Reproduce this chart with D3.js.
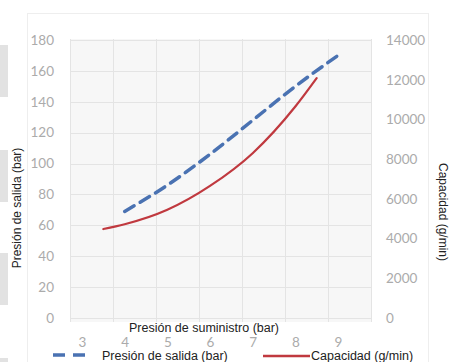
<!DOCTYPE html>
<html>
<head>
<meta charset="utf-8">
<script src="https://cdn.jsdelivr.net/npm/d3@7"></script>
<style>
  body { margin: 0; background: #ffffff; }
  svg { display: block; }
</style>
</head>
<body>
<svg id="chart"></svg>
<script>
//--Data
var supplyTicks = [3, 4, 5, 6, 7, 8, 9];
var outletTicks = [0, 20, 40, 60, 80, 100, 120, 140, 160, 180];
var capacityTicks = [0, 2000, 4000, 6000, 8000, 10000, 12000, 14000];

// Presión de salida (bar), left axis
var outletX = [4, 5, 6, 7, 8, 9];
var outletY = [69, 86, 106, 128, 150, 170];

// Capacidad (g/min), right axis
var capacityX = [3.5, 4, 5, 6, 7, 8, 8.5];
var capacityY = [4480, 4720, 5450, 6650, 8300, 10650, 12080];

//--Canvas
var canvas = {
  width: 449,
  height: 362,
  plotLeft: 70,
  plotRight: 371,
  plotTop: 40,
  plotBottom: 318,
  tickColor: "#ababab",
  gridColor: "#e4e4e4",
  blue: "#4a72b2",
  red: "#c0393f"
};

let root = d3.select("#chart")
  .attr("width", canvas.width)
  .attr("height", canvas.height)
  .style("font-family", "Lato, 'Open Sans', sans-serif");

let scale_x = d3.scaleLinear().domain([3, 9]).range([82, 338]);
let scale_yl = d3.scaleLinear().domain([0, 180]).range([canvas.plotBottom, canvas.plotTop]);
let scale_yr = d3.scaleLinear().domain([0, 14000]).range([canvas.plotBottom, canvas.plotTop]);
// vertical grid sits on its own spacing in the source image
let scale_grid = d3.scaleLinear().domain([0, 7]).range([canvas.plotLeft, canvas.plotRight]);

//--Page decoration (grey blocks at left edge, faint frame)
root.selectAll("rect.side")
  .data([[45, 52], [150, 52], [253, 52], [358, 10]])
  .enter()
  .append("rect")
  .classed("side", true)
  .attr("x", 0)
  .attr("y", d => d[0])
  .attr("width", 8)
  .attr("height", d => d[1])
  .attr("fill", "#e2e2e2");

root.append("rect")
  .attr("x", 27.5)
  .attr("y", 13.5)
  .attr("width", 401)
  .attr("height", 360)
  .attr("fill", "none")
  .attr("stroke", "#eeeeee");

//--Plot area and grid
root.append("rect")
  .attr("x", canvas.plotLeft)
  .attr("y", canvas.plotTop - 1)
  .attr("width", canvas.plotRight - canvas.plotLeft)
  .attr("height", canvas.plotBottom - canvas.plotTop + 5)
  .attr("fill", "#f7f7f7");

let grid = root.append("g")
  .attr("stroke", canvas.gridColor)
  .attr("stroke-width", 1);
grid.selectAll("line.h")
  .data(outletTicks)
  .enter()
  .append("line")
  .attr("x1", canvas.plotLeft)
  .attr("x2", canvas.plotRight)
  .attr("y1", d => Math.round(scale_yl(d)) + 0.5)
  .attr("y2", d => Math.round(scale_yl(d)) + 0.5);
grid.selectAll("line.v")
  .data(d3.range(0, 8))
  .enter()
  .append("line")
  .attr("x1", d => Math.round(scale_grid(d)) + 0.5)
  .attr("x2", d => Math.round(scale_grid(d)) + 0.5)
  .attr("y1", canvas.plotTop - 1)
  .attr("y2", canvas.plotBottom + 4);

//--Axes (labels only, no domain lines)
let axisLeft = root.append("g")
  .attr("transform", "translate(57,0)")
  .call(d3.axisLeft(scale_yl).tickValues(outletTicks).tickFormat(d3.format("d")).tickSize(0).tickPadding(3));
let axisRight = root.append("g")
  .attr("transform", "translate(383,0)")
  .call(d3.axisRight(scale_yr).tickValues(capacityTicks).tickFormat(d3.format("d")).tickSize(0).tickPadding(3));
let axisBottom = root.append("g")
  .attr("transform", "translate(0,334)")
  .call(d3.axisBottom(scale_x).tickValues(supplyTicks).tickFormat(d3.format("d")).tickSize(0).tickPadding(3));

[axisLeft, axisRight, axisBottom].forEach(a => {
  a.select(".domain").remove();
  a.selectAll("text")
    .attr("fill", canvas.tickColor)
    .style("font-family", "Lato, 'Open Sans', sans-serif")
    .style("font-size", "13.5px");
});

//--Axis titles
let titleFont = "'Liberation Sans Narrow', 'Arial Narrow', 'Liberation Sans', sans-serif";
root.append("text")
  .attr("transform", "translate(21,208) rotate(-90)")
  .attr("text-anchor", "middle")
  .style("font-family", titleFont)
  .style("font-size", "12px")
  .style("font-weight", "normal")
  .attr("fill", "#222")
  .text("Presión de salida (bar)");
root.append("text")
  .attr("transform", "translate(439,212) rotate(90)")
  .attr("text-anchor", "middle")
  .style("font-family", titleFont)
  .style("font-size", "12px")
  .style("font-weight", "normal")
  .attr("fill", "#222")
  .text("Capacidad (g/min)");
root.append("text")
  .attr("x", 204)
  .attr("y", 332)
  .attr("text-anchor", "middle")
  .style("font-family", titleFont)
  .style("font-size", "12.5px")
  .style("font-weight", "normal")
  .attr("fill", "#222")
  .text("Presión de suministro (bar)");

//--Series
let outletLine = d3.line()
  .x(d => scale_x(d[0]))
  .y(d => scale_yl(d[1]))
  .curve(d3.curveMonotoneX);
let capacityLine = d3.line()
  .x(d => scale_x(d[0]))
  .y(d => scale_yr(d[1]))
  .curve(d3.curveMonotoneX);

root.append("path")
  .datum(capacityX.map((x, i) => [x, capacityY[i]]))
  .attr("d", capacityLine)
  .attr("fill", "none")
  .attr("stroke", canvas.red)
  .attr("stroke-width", 2.2)
  .attr("stroke-linecap", "round");

root.append("path")
  .datum(outletX.map((x, i) => [x, outletY[i]]))
  .attr("d", outletLine)
  .attr("fill", "none")
  .attr("stroke", canvas.blue)
  .attr("stroke-width", 3.5)
  .attr("stroke-dasharray", "11,7")
  .attr("stroke-linecap", "round");

//--Legend
let legend = root.append("g")
  .style("font-family", titleFont)
  .style("font-size", "12.5px");
legend.append("line")
  .attr("x1", 53).attr("x2", 90)
  .attr("y1", 355).attr("y2", 355)
  .attr("stroke", canvas.blue)
  .attr("stroke-width", 3.5)
  .attr("stroke-dasharray", "12,8");
legend.append("text")
  .attr("x", 102).attr("y", 360)
  .attr("fill", "#222")
  .text("Presión de salida (bar)");
legend.append("line")
  .attr("x1", 263).attr("x2", 310)
  .attr("y1", 356).attr("y2", 356)
  .attr("stroke", canvas.red)
  .attr("stroke-width", 2.5);
legend.append("text")
  .attr("x", 311).attr("y", 360)
  .attr("fill", "#222")
  .text("Capacidad (g/min)");
</script>
</body>
</html>
